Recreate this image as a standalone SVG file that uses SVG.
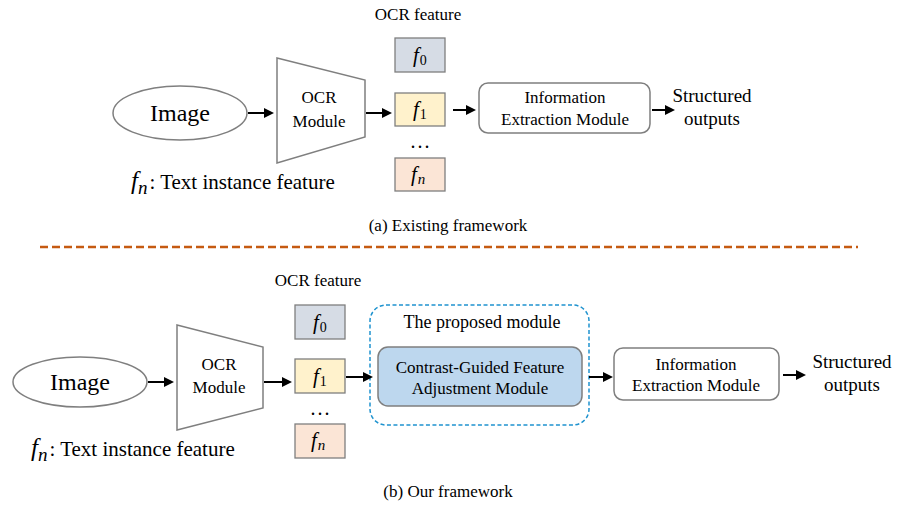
<svg xmlns="http://www.w3.org/2000/svg" width="897" height="506" viewBox="0 0 897 506" font-family="Times New Roman, Liberation Serif, serif">
  <!-- ===== (a) existing framework ===== -->
  <g id="a-image">
    <ellipse cx="180" cy="113" rx="67" ry="27" fill="#fff" stroke="#7f7f7f" stroke-width="1.5"/>
    <text font-family="Times New Roman" font-size="24" text-anchor="middle" x="180" y="121">Image</text>
  </g>
  <g id="a-ocr">
    <polygon points="277,58 365,80 365,137 277,163" fill="#fff" stroke="#7f7f7f" stroke-width="1.5"/>
    <text font-family="Times New Roman" font-size="17" text-anchor="middle" x="319" y="103">OCR</text>
    <text font-family="Times New Roman" font-size="17" text-anchor="middle" x="319" y="127">Module</text>
  </g>
  <g id="a-features">
    <text font-family="Times New Roman" font-size="17" text-anchor="middle" x="418" y="20">OCR feature</text>
    <rect x="395" y="38" width="50" height="34" fill="#d6dce5" stroke="#7f7f7f" stroke-width="1.3"/>
    <text font-family="Times New Roman" x="413" y="62"><tspan font-style="italic" font-size="21">f</tspan><tspan font-size="14" dx="1" dy="3">0</tspan></text>
    <rect x="395" y="93" width="50" height="33" fill="#fff2cc" stroke="#7f7f7f" stroke-width="1.3"/>
    <text font-family="Times New Roman" x="413" y="116"><tspan font-style="italic" font-size="21">f</tspan><tspan font-size="14" dx="1" dy="3">1</tspan></text>
    <text font-family="Times New Roman" font-size="20" letter-spacing="2" text-anchor="middle" x="421" y="148">...</text>
    <rect x="395" y="158" width="50" height="33" fill="#fbe5d6" stroke="#7f7f7f" stroke-width="1.3"/>
    <text font-family="Times New Roman" x="411" y="181"><tspan font-style="italic" font-size="21">f</tspan><tspan font-style="italic" font-size="15" dx="1" dy="3">n</tspan></text>
  </g>
  <g id="a-ie">
    <rect x="479" y="83" width="171" height="50" rx="9" fill="#fff" stroke="#7f7f7f" stroke-width="1.5"/>
    <text font-family="Times New Roman" font-size="17" text-anchor="middle" x="565" y="103">Information</text>
    <text font-family="Times New Roman" font-size="17" text-anchor="middle" x="565" y="125">Extraction Module</text>
  </g>
  <g id="a-output">
    <text font-family="Times New Roman" font-size="19" text-anchor="middle" x="712" y="102">Structured</text>
    <text font-family="Times New Roman" font-size="19" text-anchor="middle" x="712" y="125">outputs</text>
  </g>
  <g id="a-legend">
    <text font-family="Times New Roman" x="131" y="189"><tspan font-style="italic" font-size="25">f</tspan><tspan font-style="italic" font-size="19" dy="5">n</tspan><tspan font-size="21" dy="-5" dx="2">: Text instance feature</tspan></text>
  </g>
  <text id="a-caption" font-family="Times New Roman" font-size="17" text-anchor="middle" x="448" y="231">(a) Existing framework</text>

  <!-- separator -->
  <line id="separator" x1="40" y1="247" x2="858" y2="247" stroke="#c55a11" stroke-width="2.5" stroke-dasharray="8 4"/>

  <!-- ===== (b) our framework ===== -->
  <g id="b-image">
    <ellipse cx="80" cy="382" rx="67" ry="25" fill="#fff" stroke="#7f7f7f" stroke-width="1.5"/>
    <text font-family="Times New Roman" font-size="24" text-anchor="middle" x="80" y="390">Image</text>
  </g>
  <g id="b-ocr">
    <polygon points="177,325 263,347 263,408 177,430" fill="#fff" stroke="#7f7f7f" stroke-width="1.5"/>
    <text font-family="Times New Roman" font-size="17" text-anchor="middle" x="219" y="370">OCR</text>
    <text font-family="Times New Roman" font-size="17" text-anchor="middle" x="219" y="393">Module</text>
  </g>
  <g id="b-features">
    <text font-family="Times New Roman" font-size="17" text-anchor="middle" x="318" y="286">OCR feature</text>
    <rect x="295" y="305" width="50" height="34" fill="#d6dce5" stroke="#7f7f7f" stroke-width="1.3"/>
    <text font-family="Times New Roman" x="313" y="329"><tspan font-style="italic" font-size="21">f</tspan><tspan font-size="14" dx="1" dy="3">0</tspan></text>
    <rect x="295" y="359" width="50" height="34" fill="#fff2cc" stroke="#7f7f7f" stroke-width="1.3"/>
    <text font-family="Times New Roman" x="313" y="383"><tspan font-style="italic" font-size="21">f</tspan><tspan font-size="14" dx="1" dy="3">1</tspan></text>
    <text font-family="Times New Roman" font-size="20" letter-spacing="2" text-anchor="middle" x="321" y="415">...</text>
    <rect x="295" y="424" width="50" height="34" fill="#fbe5d6" stroke="#7f7f7f" stroke-width="1.3"/>
    <text font-family="Times New Roman" x="311" y="447"><tspan font-style="italic" font-size="21">f</tspan><tspan font-style="italic" font-size="15" dx="1" dy="3">n</tspan></text>
  </g>
  <g id="b-proposed">
    <rect x="370" y="305" width="219" height="120" rx="16" fill="none" stroke="#1f93cf" stroke-width="1.5" stroke-dasharray="4 2.5"/>
    <text font-family="Times New Roman" font-size="18" text-anchor="middle" x="482" y="328">The proposed module</text>
  </g>
  <g id="b-cgfa">
    <rect x="378" y="347" width="204" height="59" rx="10" fill="#bdd7ee" stroke="#7f7f7f" stroke-width="1.5"/>
    <text font-family="Times New Roman" font-size="17" text-anchor="middle" x="480" y="373">Contrast-Guided Feature</text>
    <text font-family="Times New Roman" font-size="17" text-anchor="middle" x="480" y="394">Adjustment Module</text>
  </g>
  <g id="b-ie">
    <rect x="614" y="348" width="165" height="52" rx="9" fill="#fff" stroke="#7f7f7f" stroke-width="1.5"/>
    <text font-family="Times New Roman" font-size="17" text-anchor="middle" x="696" y="370">Information</text>
    <text font-family="Times New Roman" font-size="17" text-anchor="middle" x="696" y="391">Extraction Module</text>
  </g>
  <g id="b-output">
    <text font-family="Times New Roman" font-size="19" text-anchor="middle" x="852" y="368">Structured</text>
    <text font-family="Times New Roman" font-size="19" text-anchor="middle" x="852" y="391">outputs</text>
  </g>
  <g id="b-legend">
    <text font-family="Times New Roman" x="31" y="456"><tspan font-style="italic" font-size="25">f</tspan><tspan font-style="italic" font-size="19" dy="5">n</tspan><tspan font-size="21" dy="-5" dx="2">: Text instance feature</tspan></text>
  </g>
  <text id="b-caption" font-family="Times New Roman" font-size="17" text-anchor="middle" x="448" y="497">(b) Our framework</text>

  <!-- connectors: shaft plus a filled head at the target end -->
  <g id="connectors" stroke="#000" stroke-width="2" fill="#000">
    <line x1="248" y1="113" x2="265" y2="113"/><polygon stroke="none" points="264,108 274,113 264,118"/>
    <line x1="366" y1="113" x2="383" y2="113"/><polygon stroke="none" points="382,108 392,113 382,118"/>
    <line x1="453" y1="110" x2="467" y2="110"/><polygon stroke="none" points="466,105 476,110 466,115"/>
    <line x1="652" y1="110" x2="666" y2="110"/><polygon stroke="none" points="665,105 675,110 665,115"/>
    <line x1="148" y1="382" x2="165" y2="382"/><polygon stroke="none" points="164,377 174,382 164,387"/>
    <line x1="264" y1="382" x2="283" y2="382"/><polygon stroke="none" points="282,377 292,382 282,387"/>
    <line x1="346" y1="377" x2="364" y2="377"/><polygon stroke="none" points="363,372 373,377 363,382"/>
    <line x1="589" y1="377" x2="604" y2="377"/><polygon stroke="none" points="603,372 613,377 603,382"/>
    <line x1="783" y1="375" x2="797" y2="375"/><polygon stroke="none" points="796,370 806,375 796,380"/>
  </g>
</svg>
